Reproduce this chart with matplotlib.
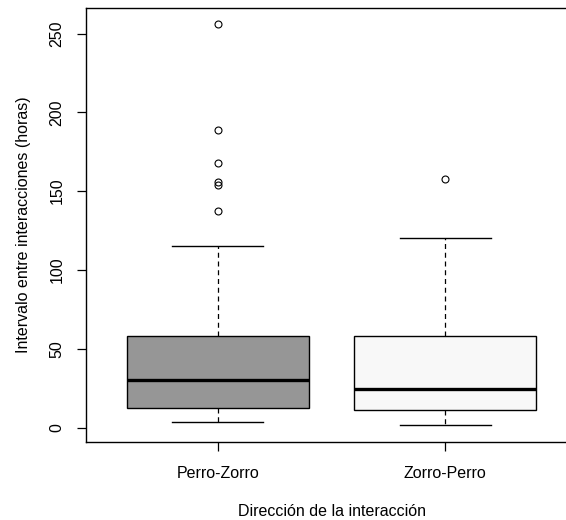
import matplotlib
matplotlib.use("Agg")
import matplotlib.pyplot as plt

plt.rcParams['font.family'] = ['Liberation Sans', 'DejaVu Sans']

# summary values (hours)
groups = ["Perro-Zorro", "Zorro-Perro"]
whis_low = [3.4, 1.5]
q1 = [12.5, 11.0]
medians = [30.3, 24.6]
q3 = [58.0, 58.0]
whis_high = [115.3, 120.4]
outliers = [[256.3, 189.0, 168.0, 155.5, 153.6, 137.7], [157.4]]
box_colors = ["#969696", "#f8f8f8"]

stats = []
for i in range(len(groups)):
    stats.append(dict(label=groups[i], whislo=whis_low[i], q1=q1[i], med=medians[i],
                      q3=q3[i], whishi=whis_high[i], fliers=outliers[i]))

fig = plt.figure(figsize=(5.66, 5.2), dpi=100)
ax = fig.add_axes([86/566, 78/520, 491/566, 434/520])

bp = ax.bxp(stats, positions=[1, 2], widths=0.8, patch_artist=True,
            boxprops=dict(edgecolor="black", linewidth=1),
            medianprops=dict(color="black", linewidth=2.4, solid_capstyle="butt"),
            whiskerprops=dict(color="black", linewidth=0.9, linestyle=(0, (4, 3))),
            capprops=dict(color="black", linewidth=1),
            capwidths=0.4,
            flierprops=dict(marker="o", markerfacecolor="none", markeredgecolor="black",
                            markersize=5, markeredgewidth=0.8))
for patch, c in zip(bp["boxes"], box_colors):
    patch.set_facecolor(c)

ax.set_xlim(0.42, 2.58)
ax.set_ylim(-9.2, 266.2)
ax.set_yticks([0, 50, 100, 150, 200, 250])
ax.set_xticks([1, 2])
ax.set_xticklabels(groups)
for lbl in ax.get_yticklabels():
    lbl.set_rotation(90)
    lbl.set_va("center")
ax.tick_params(axis="both", labelsize=11.5, length=6.5, width=0.9, colors="black")
ax.tick_params(axis="y", pad=9)
ax.tick_params(axis="x", pad=11)
for s in ax.spines.values():
    s.set_linewidth(1)

ax.set_xlabel("Dirección de la interacción", fontsize=11.5, labelpad=16)
ax.set_ylabel("Intervalo entre interacciones (horas)", fontsize=11.5, labelpad=13)

fig.savefig("out.png", dpi=100)
